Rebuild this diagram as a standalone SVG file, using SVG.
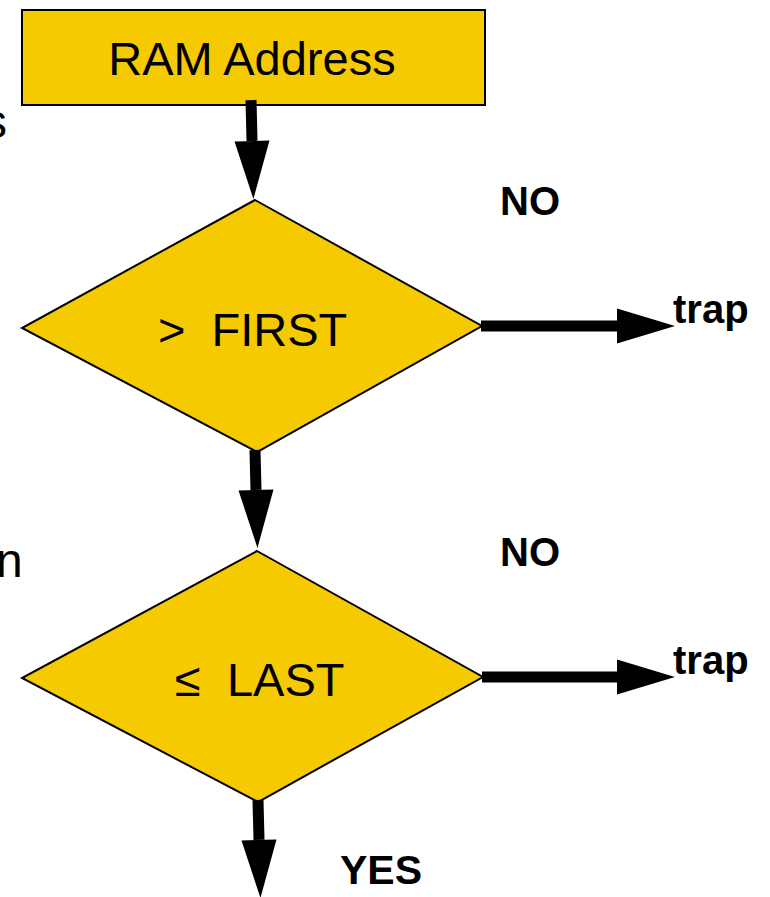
<svg xmlns="http://www.w3.org/2000/svg" width="770" height="897" viewBox="0 0 770 897">
  <style>
    .box { fill: #F6CA00; stroke: #000; stroke-width: 2; }
    .label { font-family: "Liberation Sans", Arial, sans-serif; font-size: 47px; fill: #000; }
    .tag { font-family: "Liberation Sans", Arial, sans-serif; font-size: 40px; font-weight: bold; fill: #000; }
    .side { font-family: "Liberation Sans", Arial, sans-serif; font-size: 48px; fill: #000; }
    .flow { stroke: #000; stroke-width: 11; fill: none; marker-end: url(#head); }
  </style>
  <defs>
    <marker id="head" markerUnits="userSpaceOnUse" markerWidth="58" markerHeight="35" refX="0" refY="17.5" orient="auto" overflow="visible">
      <path d="M0,0 L58,17.5 L0,35 Z" fill="#000"/>
    </marker>
  </defs>

  <rect width="770" height="897" fill="#fff"/>

  <!-- text running in from the left margin -->
  <text class="side" x="7" y="138" text-anchor="end">s</text>
  <text class="side" x="-4" y="577">n</text>

  <g id="ram-address">
    <rect class="box" x="22" y="10" width="463" height="95"/>
    <text class="label" x="252" y="75" text-anchor="middle">RAM Address</text>
  </g>

  <g id="check-first">
    <polygon class="box" points="255,200 482,326 257,452 22,328"/>
    <text class="label" x="158" y="346" xml:space="preserve">&gt;  FIRST</text>
  </g>

  <g id="check-last">
    <polygon class="box" points="257,551 483,677 258,802 22,678"/>
    <text class="label" x="175" y="696" xml:space="preserve">≤  LAST</text>
  </g>

  <g id="connectors">
    <line class="flow" x1="251" y1="100" x2="252" y2="141"/>
    <line class="flow" x1="255" y1="450" x2="256" y2="490"/>
    <line class="flow" x1="258" y1="800" x2="259" y2="840"/>
    <line class="flow" x1="481" y1="326" x2="617" y2="326"/>
    <line class="flow" x1="482" y1="677" x2="617" y2="677"/>
  </g>

  <g id="labels">
    <text class="tag" x="500" y="215">NO</text>
    <text class="tag" x="673" y="323">trap</text>
    <text class="tag" x="500" y="566">NO</text>
    <text class="tag" x="673" y="674">trap</text>
    <text class="tag" x="340" y="884" style="font-size:41px">YES</text>
  </g>
</svg>
